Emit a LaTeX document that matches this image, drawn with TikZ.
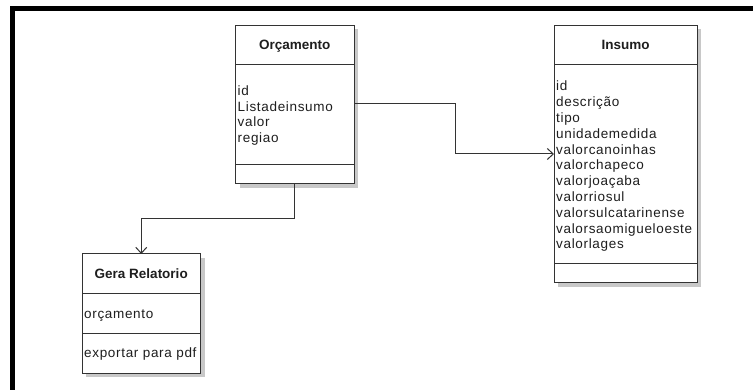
\documentclass[tikz,border=0pt]{standalone}
\usepackage{fontspec}
\setmainfont{Liberation Sans}
\newfontfamily\attrfont{Liberation Sans}[LetterSpace=5]
\usetikzlibrary{arrows.meta,shadows}
\definecolor{lnc}{HTML}{333333}
\definecolor{shc}{HTML}{C8C8C8}
\definecolor{txc}{HTML}{1E1E1E}
\begin{document}
\begin{tikzpicture}[x=1pt,y=-1pt,
 box/.style={draw=lnc, fill=white, line width=1pt, inner sep=0, outer sep=0, anchor=north west,
   drop shadow={shadow xshift=4pt, shadow yshift=-4pt, fill=shc, opacity=1}},
 titletext/.style={font=\fontsize{13.5}{16}\selectfont\bfseries, text=txc, inner sep=0, anchor=base},
 attr/.style={font=\attrfont\fontsize{13.5}{16}\selectfont, text=txc, inner sep=0, anchor=base west},
 conn/.style={draw=lnc, line width=1pt},
 sep/.style={draw=lnc, line width=1pt},
 arr/.style={-{Straight Barb[length=6pt,width=11pt,line width=1pt]}}]
\useasboundingbox (0,0) rectangle (753,390);
\fill[white] (0,0) rectangle (753,390);
% frame
\draw[line width=5pt, black, line join=miter] (753,8.5) -- (12.5,8.5) -- (12.5,390);

% Orcamento
\node[box, minimum width=118.5pt, minimum height=158.5pt] (orc) at (235.5,25.5) {};
\draw[sep] ([yshift=-39.5pt]orc.north west) -- ([yshift=-39.5pt]orc.north east);
\draw[sep] ([yshift=19pt]orc.south west) -- ([yshift=19pt]orc.south east);
\node[titletext] (orct) at (294.75,50) {Orçamento};
\foreach \t [count=\i] in {id,Listadeinsumo,valor,regiao}
  \node[attr] (orca\i) at (237.5,{96+15.5*(\i-1)}) {\t};

% Insumo
\node[box, minimum width=143pt, minimum height=257.5pt] (ins) at (554,25.5) {};
\draw[sep] ([yshift=-39.5pt]ins.north west) -- ([yshift=-39.5pt]ins.north east);
\draw[sep] ([yshift=19pt]ins.south west) -- ([yshift=19pt]ins.south east);
\node[titletext] (inst) at (625.5,50) {Insumo};
\foreach \t [count=\i] in {id,descrição,tipo,unidademedida,valorcanoinhas,valorchapeco,valorjoaçaba,valorriosul,valorsulcatarinense,valorsaomigueloeste,valorlages}
  \node[attr] (insa\i) at (556,{91+15.8*(\i-1)}) {\t};

% Gera Relatorio
\node[box, minimum width=118.5pt, minimum height=119pt] (ger) at (82,254) {};
\draw[sep] ([yshift=-40pt]ger.north west) -- ([yshift=-40pt]ger.north east);
\draw[sep] ([yshift=-80pt]ger.north west) -- ([yshift=-80pt]ger.north east);
\node[titletext] (gert) at (141.25,279) {Gera Relatorio};
\node[attr] (gera1) at (84,319) {orçamento};
\node[attr] (gera2) at (84,358) {exportar para pdf};

% connectors
\coordinate (p1) at (0,104);
\coordinate (p2) at (0,154);
\coordinate (q) at (0,219);
\coordinate (k1) at (455,154);
\draw[conn,arr] (orc.east |- p1) -| (k1) -- (ins.west |- p2);
\draw[conn,arr] (orc.south) |- (ger.north |- q) -- (ger.north);
\end{tikzpicture}
\end{document}
